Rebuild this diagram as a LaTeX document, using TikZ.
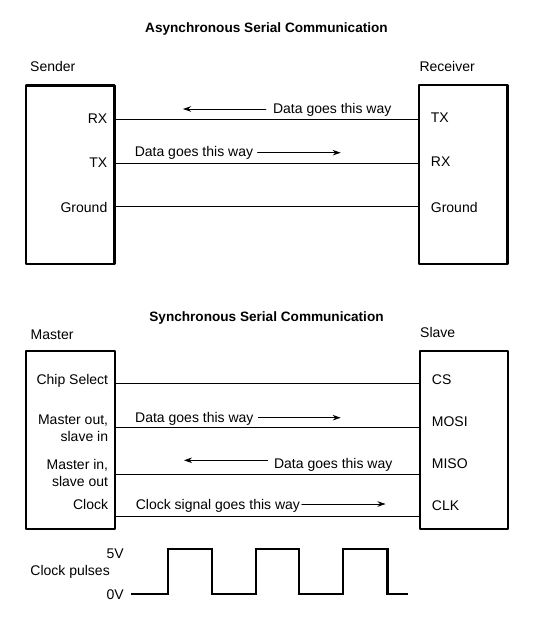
\documentclass[tikz,border=0pt]{standalone}
\usepackage{fontspec}
\setmainfont{Liberation Sans}
\usepackage{tikz}
\usepackage{tkz-euclide}
\usetikzlibrary{arrows.meta}

\begin{document}
\begin{tikzpicture}[x=1pt, y=-1pt, font=\fontsize{14}{17}\selectfont,
    every node/.style={inner sep=0pt},
    box/.style={line width=2.2pt},
    wire/.style={line width=0.9pt},
    flow/.style={line width=0.8pt, -{Stealth[length=8pt,width=5.5pt]}},
    head/.style={font=\fontsize{13.6}{16}\selectfont\bfseries}]
  \useasboundingbox (0,0) rectangle (533,620);

  % asynchronous
  \node[head, anchor=base] (asyncTitle) at (266.5,33) {Asynchronous Serial Communication};
  \node[anchor=base west] (sender) at (30,71.7) {Sender};
  \node[anchor=base west] (receiver) at (419.3,71.7) {Receiver};

  \tkzDefPoints{26/85.5/S1, 114.5/85.5/S2, 114.5/264/S3, 26/264/S4}
  \tkzDefPoints{419/85/R1, 507.5/85/R2, 507.5/264/R3, 419/264/R4}
  \tkzDrawPolygon[box](S1,S2,S3,S4)
  \tkzDrawPolygon[box](R1,R2,R3,R4)

  \tkzDefPoints{114.5/119.5/sRX, 419/119.5/rTX, 114.5/163/sTX, 419/163/rRX}
  \tkzDefPoints{114.5/206/sGnd, 419/206/rGnd}
  \tkzDrawSegments[wire](sRX,rTX sTX,rRX sGnd,rGnd)

  \node[anchor=base east] (lRX) at (107.5,123.3) {RX};
  \node[anchor=base east] (lTX) at (107.5,167.3) {TX};
  \node[anchor=base east] (lGnd) at (107.5,212.5) {Ground};
  \node[anchor=base west] (rTXl) at (430.7,122.7) {TX};
  \node[anchor=base west] (rRXl) at (430.7,166.7) {RX};
  \node[anchor=base west] (rGndl) at (430.7,212.7) {Ground};

  \node[anchor=base west] (dataBack) at (272.9,114) {Data goes this way};
  \node[anchor=base west] (dataFwd) at (134.6,156.7) {Data goes this way};
  \tkzDefPoints{266/109/a1, 183/109/a2, 257.6/152.7/b1, 340.7/152.7/b2}
  \tkzDrawSegments[flow](a1,a2 b1,b2)

  % synchronous
  \node[head, anchor=base] (syncTitle) at (266.5,321) {Synchronous Serial Communication};
  \node[anchor=base west] (master) at (30.5,339) {Master};
  \node[anchor=base west] (slave) at (420,337) {Slave};

  \tkzDefPoints{26/351/M1, 115/351/M2, 115/529/M3, 26/529/M4}
  \tkzDefPoints{420/351/L1, 508/351/L2, 508/529/L3, 420/529/L4}
  \tkzDrawPolygon[box](M1,M2,M3,M4)
  \tkzDrawPolygon[box](L1,L2,L3,L4)

  \tkzDefPoints{115/383.5/mCS, 420/383.5/lCS, 115/427.7/mMOSI, 420/427.7/lMOSI}
  \tkzDefPoints{115/474/mMISO, 420/474/lMISO, 115/516/mCLK, 420/516/lCLK}
  \tkzDrawSegments[wire](mCS,lCS mMOSI,lMOSI mMISO,lMISO mCLK,lCLK)

  \node[anchor=base east] (chipSel) at (108.3,384.3) {Chip Select};
  \node[anchor=base east, align=right] (moSi) at (108.3,441) {Master out,\\slave in};
  \node[anchor=base east, align=right] (miSo) at (108.3,486.5) {Master in,\\slave out};
  \node[anchor=base east] (clock) at (108.3,509) {Clock};
  \node[anchor=base west] (csL) at (431.7,384) {CS};
  \node[anchor=base west] (mosiL) at (431.7,426) {MOSI};
  \node[anchor=base west] (misoL) at (431.7,468.3) {MISO};
  \node[anchor=base west] (clkL) at (431.7,510.3) {CLK};

  \node[anchor=base west] (dataOut) at (135,422.3) {Data goes this way};
  \node[anchor=base west] (dataIn) at (273.9,468) {Data goes this way};
  \node[anchor=base west] (clkSig) at (135.6,509) {Clock signal goes this way};
  \tkzDefPoints{258.3/417.7/c1, 340.7/417.7/c2, 267.8/460.3/d1, 184/460.3/d2}
  \tkzDefPoints{301.7/504/e1, 385.5/504/e2}
  \tkzDrawSegments[flow](c1,c2 d1,d2 e1,e2)

  % clock pulses
  \node[anchor=base east] (pulses) at (110,575.7) {Clock pulses};
  \node[anchor=base east] (fiveV) at (124,558.3) {5V};
  \node[anchor=base east] (zeroV) at (124,599.3) {0V};
  \draw[line width=2.2pt] (131,594.3) -- (168.3,594.3) -- (168.3,549) -- (212.3,549)
    -- (212.3,594.3) -- (255.7,594.3) -- (255.7,549) -- (299.3,549)
    -- (299.3,594.3) -- (342.7,594.3) -- (342.7,549) -- (387.5,549)
    -- (387.5,594.3) -- (408.3,594.3);

\end{tikzpicture}
\end{document}
